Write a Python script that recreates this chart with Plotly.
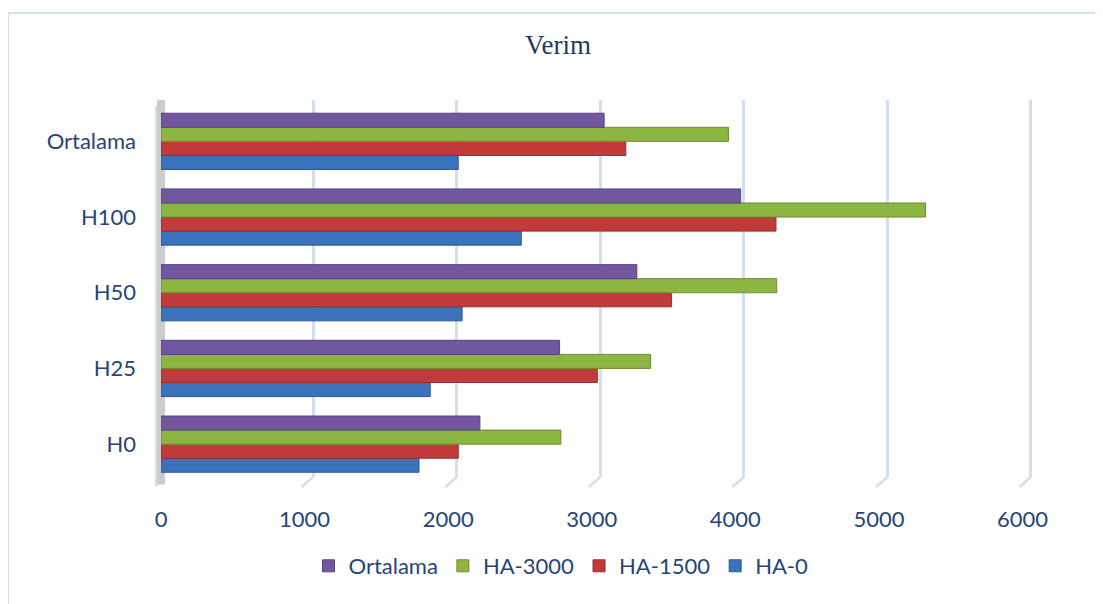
import plotly.graph_objects as go

# ---- data ----
categories = ["H0", "H25", "H50", "H100", "Ortalama"]
series_names = ["HA-0", "HA-1500", "HA-3000", "Ortalama"]
ha_0 = [1797, 1875, 2097, 2509, 2070]
ha_1500 = [2070, 3039, 3556, 4283, 3237]
ha_3000 = [2785, 3410, 4288, 5324, 3952]
ortalama = [2221, 2776, 3314, 4037, 3086]
x_ticks = [0, 1000, 2000, 3000, 4000, 5000, 6000]
title_text = "Verim"

# ---- styles ----
PAGE = 8                      # default body margin of the html page
W, H = 1103 - PAGE, 604 - PAGE
L, R, T, B = 161 - PAGE, 69, 100 - PAGE, 130 - PAGE
plot_w = W - L - R
plot_h = H - T - B
x_max = 6080
fills = ["#3A72BC", "#C03B39", "#8DB542", "#7257A0"]
edges = ["#2C5A96", "#962D2B", "#6E8E32", "#584380"]
text_col = "#264478"
grid_col = "#D3DFEE"
font_sans = "Lato"
fsize = 22

fig = go.Figure()
# empty helper trace on the base (back wall) axes that carry the grid
fig.add_trace(go.Scatter(x=[], y=[], xaxis="x", yaxis="y", showlegend=False, hoverinfo="skip"))

for name, vals, fc, ec in zip(series_names, [ha_0, ha_1500, ha_3000, ortalama], fills, edges):
    fig.add_trace(go.Bar(
        y=categories, x=vals, name=name, orientation="h",
        marker=dict(color=fc, line=dict(color=ec, width=1)),
        xaxis="x2", yaxis="y2",
    ))

back_offset = 59  # back wall (perspective) shift in axis units
y_top = (plot_h - 3.5) / plot_h
y_grid_bottom = 5 / plot_h

fig.update_layout(
    width=W, height=H,
    margin=dict(l=L, r=R, t=T, b=B),
    paper_bgcolor="white", plot_bgcolor="rgba(0,0,0,0)",
    barmode="group", bargap=0.257, bargroupgap=0,
    title=dict(text=title_text, x=(558 - PAGE) / W, xref="container", xanchor="center",
               y=1 - (45 - PAGE) / H, yref="container", yanchor="middle",
               font=dict(family="Liberation Serif", size=27, color="#1F3864")),
    # back wall grid axes
    xaxis=dict(range=[-back_offset, x_max - back_offset], anchor="y",
               tickvals=x_ticks[1:], showgrid=True, gridcolor=grid_col, gridwidth=2.5,
               showticklabels=False, zeroline=False, showline=False, ticks=""),
    yaxis=dict(domain=[y_grid_bottom, 1], range=[0, 1], visible=False, anchor="x"),
    # bar axes
    xaxis2=dict(range=[0, x_max], tickvals=x_ticks, showgrid=False, zeroline=False,
                overlaying="x", anchor="y2", side="bottom",
                showline=False, ticks="", ticklabelstandoff=22,
                tickfont=dict(family=font_sans, size=fsize, color=text_col)),
    yaxis2=dict(range=[-0.5, 4.5], domain=[0, y_top], showgrid=False, zeroline=False,
                showline=False, ticks="", ticklabelstandoff=24, anchor="x2",
                categoryorder="array", categoryarray=categories,
                tickfont=dict(family=font_sans, size=fsize, color=text_col)),
    legend=dict(orientation="h", traceorder="reversed", x=(561 - PAGE - L) / plot_w, xanchor="center",
                y=(plot_h - (566 - 100)) / plot_h, yanchor="middle",
                font=dict(family=font_sans, size=fsize, color=text_col), itemwidth=30),
    showlegend=True,
)

shapes = []
# outer chart border
shapes.append(dict(type="rect", xref="paper", yref="paper",
                   x0=(8 - 161) / plot_w, x1=(W + 10 - L) / plot_w,
                   y0=-(B + 10) / plot_h, y1=(plot_h + T - (5 - PAGE) - PAGE) / plot_h,
                   line=dict(color="#D5E0EE", width=2), fillcolor="rgba(0,0,0,0)", layer="below"))
# side wall
shapes.append(dict(type="rect", xref="x2 domain", yref="y domain",
                   x0=-4 / plot_w, x1=4 / plot_w, y0=-0.02, y1=1,
                   line=dict(width=0), fillcolor="#CCCCCC", layer="below"))
shapes.append(dict(type="line", xref="x2 domain", yref="y domain",
                   x0=-5 / plot_w, x1=-5 / plot_w, y0=-0.025, y1=0.985,
                   line=dict(color="#D5E0EE", width=2), layer="below"))
# perspective floor stubs under back grid lines
for v in x_ticks[1:]:
    shapes.append(dict(type="line", xref="x", yref="paper",
                       x0=v, x1=v - 80, y0=5 / plot_h, y1=-5 / plot_h,
                       line=dict(color=grid_col, width=2.5), layer="below"))
fig.update_layout(shapes=shapes)

fig.write_html("out.html")
